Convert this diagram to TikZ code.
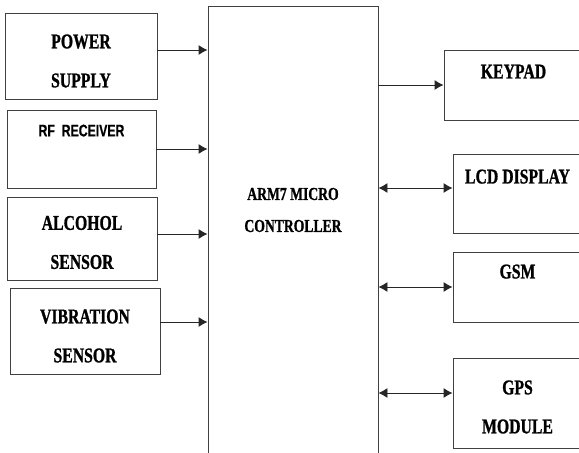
\documentclass[tikz,border=0pt]{standalone}
\usepackage{fontspec}
\setmainfont{Liberation Serif}
\newfontfamily\blockfont{Liberation Serif}[FakeStretch=0.75,FakeBold=1]
\newfontfamily\rffont{Liberation Sans}[FakeStretch=0.73,FakeBold=0.6]
\usetikzlibrary{arrows.meta,positioning}

\begin{document}
\begin{tikzpicture}[x=1pt, y=-1pt,
		block/.style={draw=black!75, line width=0.9pt, inner sep=0pt},
		blocktext/.style={align=center, inner sep=0pt,
			font=\blockfont\bfseries\fontsize{21}{39}\selectfont},
		arr/.style={draw=black!85, line width=0.9pt, -{Latex[length=9pt,width=10pt]}},
		biarr/.style={arr, {Latex[length=9pt,width=10pt]}-{Latex[length=9pt,width=10pt]}}]
		\useasboundingbox (0,0) rectangle (579,453);
		
		% Inputs
		\node[block, minimum width=152, minimum height=86] (power) at (81,56) {};
		\node[block, minimum width=149, minimum height=78] (rf) at (81.5,149) {};
		\node[block, minimum width=150, minimum height=83] (alcohol) at (82,238.5) {};
		\node[block, minimum width=150, minimum height=86] (vibration) at (85,331) {};
		
		\node[blocktext] (powertext) at ([yshift=-5pt]power.center) {POWER\\SUPPLY};
		\node[blocktext, font=\rffont\bfseries\fontsize{16.8}{39}\selectfont] (rftext) at ([yshift=-1pt]rf.center) {RF\ \ RECEIVER\\\mbox{}};
		\node[blocktext] (alcoholtext) at ([yshift=-4pt]alcohol.center) {ALCOHOL\\SENSOR};
		\node[blocktext] (vibrationtext) at ([yshift=-5pt]vibration.center) {VIBRATION\\SENSOR};
		
		% Controller
		\node[block, minimum width=170, minimum height=464] (mcu) at (293,238) {};
		\node[blocktext, font=\blockfont\bfseries\fontsize{18.2}{32}\selectfont] (mcutext) at (293,210) {ARM7 MICRO\\CONTROLLER};
		
		% Outputs
		\node[block, minimum width=139, minimum height=70] (keypad) at (513.5,85) {};
		\node[block, minimum width=129, minimum height=79] (lcd) at (517.5,193.5) {};
		\node[block, minimum width=129, minimum height=70] (gsm) at (517.5,287) {};
		\node[block, minimum width=129, minimum height=90] (gps) at (517.5,403) {};
		
		\node[blocktext] (keypadtext) at ([yshift=-6pt]keypad.center) {KEYPAD\\\mbox{}};
		\node[blocktext] (lcdtext) at ([yshift=-2.5pt]lcd.center) {LCD DISPLAY\\\mbox{}};
		\node[blocktext] (gsmtext) at ([yshift=-4pt]gsm.center) {GSM\\\mbox{}};
		\node[blocktext] (gpstext) at ([yshift=-4pt]gps.center) {GPS\\MODULE};
		
		% Draw edges
		\draw[arr] ([yshift=6pt]power.east) -- ([yshift=6pt]mcu.west |- power.east);
		\draw[arr] (rf.east) -- (mcu.west |- rf.east);
		\draw[arr] ([yshift=4.5pt]alcohol.east) -- ([yshift=4.5pt]mcu.west |- alcohol.east);
		\draw[arr] ([yshift=9pt]vibration.east) -- ([yshift=9pt]mcu.west |- vibration.east);
		
		\draw[arr] (mcu.east |- keypad.west) -- (keypad.west);
		\draw[biarr] ([yshift=5.5pt]mcu.east |- lcd.west) -- ([yshift=5.5pt]lcd.west);
		\draw[biarr] (mcu.east |- gsm.west) -- (gsm.west);
		\draw[biarr] ([yshift=10pt]mcu.east |- gps.west) -- ([yshift=10pt]gps.west);
	\end{tikzpicture}
\end{document}
